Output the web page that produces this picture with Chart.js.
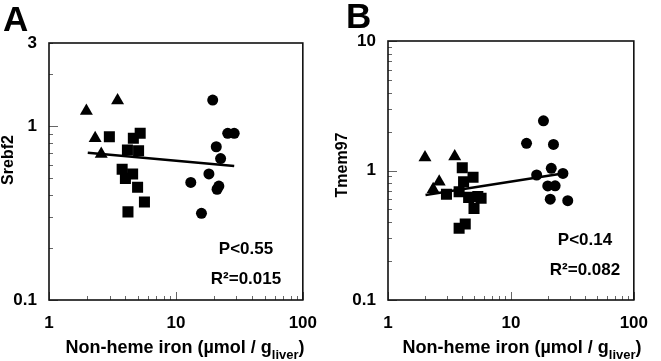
<!DOCTYPE html>
<html lang="en">
<head>
<meta charset="UTF-8" />
<title>Srebf2 / Tmem97 vs non-heme iron</title>
<script src="https://cdn.jsdelivr.net/npm/chart.js"></script>
<style>
  body { margin: 0; background: #fff; }
  .panel { position: absolute; top: 0; }
  #panelA { left: 0; }
  #panelB { left: 330px; }
</style>
</head>
<body>
<div class="panel" id="panelA"><canvas id="chartA" width="330" height="361"></canvas></div>
<div class="panel" id="panelB"><canvas id="chartB" width="331" height="361"></canvas></div>
<script>
// --- panel A: Srebf2 ---
const triXA = [1.97, 2.31, 2.58, 3.47];
const triYA = [1.22, 0.85, 0.69, 1.40];
const sqXA = [2.99, 4.62, 5.23, 4.15, 5.08, 3.77, 4.00, 4.56, 4.99, 5.65, 4.19];
const sqYA = [0.868, 0.85, 0.908, 0.728, 0.721, 0.564, 0.50, 0.53, 0.445, 0.366, 0.321];
const cirXA = [19.5, 25.6, 28.8, 20.8, 22.5, 18.2, 13.1, 21.8, 21.1, 15.9];
const cirYA = [1.41, 0.908, 0.908, 0.76, 0.65, 0.53, 0.474, 0.452, 0.433, 0.315];
const fitXA = [2.02, 28.8];
const fitYA = [0.703, 0.59];

// --- panel B: Tmem97 ---
const triXB = [2.0, 3.49, 2.61, 2.33];
const triYB = [1.26, 1.28, 0.82, 0.716];
const sqXB = [4.02, 4.92, 4.12, 2.99, 3.79, 4.53, 5.38, 5.72, 5.01, 4.25, 3.79];
const sqYB = [1.05, 0.886, 0.82, 0.655, 0.685, 0.62, 0.63, 0.61, 0.51, 0.386, 0.358];
const cirXB = [18.4, 13.4, 22.2, 21.3, 26.5, 16.2, 19.95, 22.9, 20.9, 29.0];
const cirYB = [2.42, 1.62, 1.59, 1.04, 0.95, 0.923, 0.76, 0.762, 0.60, 0.585];
const fitXB = [2.02, 28.8];
const fitYB = [0.647, 0.96];

// axis ticks
const xTicks = [1, 2, 3, 4, 5, 6, 7, 8, 9, 10, 20, 30, 40, 50, 60, 70, 80, 90, 100];
const xLabels = [1, 10, 100];
const yTicksA = [0.1, 0.2, 0.3, 0.4, 0.5, 0.6, 0.7, 0.8, 0.9, 1, 2, 3];
const yLabelsA = [0.1, 1, 3];
const yTicksB = [0.1, 0.2, 0.3, 0.4, 0.5, 0.6, 0.7, 0.8, 0.9, 1, 2, 3, 4, 5, 6, 7, 8, 9, 10];
const yLabelsB = [0.1, 1, 10];

const FONT = '"Liberation Sans", Arial, sans-serif';

const pts = (xs, ys) => xs.map((x, i) => ({ x: x, y: ys[i] }));
const isDecade = v => Math.abs(Math.log10(v) - Math.round(Math.log10(v))) < 1e-6;

// frame, inward tick marks and the extra texts
const decorations = {
  id: 'decorations',
  afterDatasetsDraw(chart, args, o) {
    const ctx = chart.ctx, a = chart.chartArea;
    const sx = chart.scales.x, sy = chart.scales.y;
    ctx.save();
    ctx.strokeStyle = '#666';
    ctx.lineWidth = 1;
    sx.ticks.forEach(t => {
      const px = Math.round(sx.getPixelForValue(t.value)) + 0.5;
      const len = isDecade(t.value) ? 8 : 4;
      ctx.beginPath(); ctx.moveTo(px, a.bottom); ctx.lineTo(px, a.bottom - len); ctx.stroke();
    });
    sy.ticks.forEach(t => {
      const py = Math.round(sy.getPixelForValue(t.value)) + 0.5;
      const len = isDecade(t.value) ? 9 : 4;
      ctx.beginPath(); ctx.moveTo(a.left, py); ctx.lineTo(a.left + len, py); ctx.stroke();
    });
    ctx.strokeStyle = '#111';
    ctx.lineWidth = 1.6;
    ctx.strokeRect(a.left, a.top, a.right - a.left, a.bottom - a.top);

    ctx.fillStyle = '#000';
    // panel letter
    ctx.font = 'bold 35px ' + FONT;
    ctx.textAlign = 'left'; ctx.textBaseline = 'alphabetic';
    ctx.fillText(o.letter, o.letterX, o.letterY);

    // stats
    ctx.font = 'bold 17px ' + FONT;
    ctx.textAlign = 'center'; ctx.textBaseline = 'middle';
    ctx.fillText(o.p, o.statX, o.pY);
    ctx.fillText(o.r2, o.statX, o.rY);

    // y title
    ctx.save();
    ctx.translate(o.yTitleX, o.yTitleY);
    ctx.rotate(-Math.PI / 2);
    ctx.font = 'bold 16px ' + FONT;
    ctx.fillText(o.yTitle, 0, 0);
    ctx.restore();

    // x title with subscript
    ctx.textBaseline = 'alphabetic'; ctx.textAlign = 'left';
    const main = 'Non-heme iron (\u00b5mol / g', sub = 'liver', tail = ')';
    ctx.font = 'bold 18px ' + FONT;
    const w1 = ctx.measureText(main).width, w3 = ctx.measureText(tail).width;
    ctx.font = 'bold 13px ' + FONT;
    const w2 = ctx.measureText(sub).width;
    let x = o.xTitleX - (w1 + w2 + w3) / 2;
    ctx.font = 'bold 18px ' + FONT;
    ctx.fillText(main, x, 353);
    ctx.font = 'bold 13px ' + FONT;
    ctx.fillText(sub, x + w1, 359);
    ctx.font = 'bold 18px ' + FONT;
    ctx.fillText(tail, x + w1 + w2, 353);
    ctx.restore();
  }
};

function makePanel(id, d) {
  const tickFont = { family: FONT, size: 17, weight: 'bold' };
  return new Chart(document.getElementById(id), {
    type: 'scatter',
    data: {
      datasets: [
        { type: 'line', data: pts(d.fitX, d.fitY), borderColor: '#000', borderWidth: 2.5,
          pointRadius: 0, fill: false },
        { data: pts(d.triX, d.triY), pointStyle: 'triangle', pointRadius: 7.5,
          backgroundColor: '#000', borderColor: '#000', borderWidth: 0 },
        { data: pts(d.sqX, d.sqY), pointStyle: 'rect', pointRadius: 7.8,
          backgroundColor: '#000', borderColor: '#000', borderWidth: 0 },
        { data: pts(d.cirX, d.cirY), pointStyle: 'circle', pointRadius: 5.5,
          backgroundColor: '#000', borderColor: '#000', borderWidth: 0 }
      ]
    },
    options: {
      responsive: false,
      animation: false,
      layout: { padding: d.padding },
      plugins: { legend: { display: false }, tooltip: { enabled: false }, decorations: d.deco },
      scales: {
        x: {
          type: 'logarithmic', min: 1, max: 100,
          grid: { display: false, drawTicks: false }, border: { display: false },
          afterBuildTicks: s => { s.ticks = xTicks.map(v => ({ value: v })); },
          afterFit: s => { s.height = 61; },
          ticks: {
            autoSkip: false, maxRotation: 0, minRotation: 0, padding: 13, color: '#000', font: tickFont,
            callback: v => xLabels.includes(v) ? String(v) : ''
          }
        },
        y: {
          type: 'logarithmic', min: d.yMin, max: d.yMax,
          grid: { display: false, drawTicks: false }, border: { display: false },
          afterBuildTicks: s => { s.ticks = d.yTicks.map(v => ({ value: v })); },
          afterFit: s => { s.width = d.yWidth; },
          ticks: {
            autoSkip: false, padding: 12, color: '#000', font: tickFont,
            callback: v => d.yLabels.includes(v) ? String(v) : ''
          }
        }
      }
    },
    plugins: [decorations]
  });
}

makePanel('chartA', {
  triX: triXA, triY: triYA, sqX: sqXA, sqY: sqYA, cirX: cirXA, cirY: cirYA, fitX: fitXA, fitY: fitYA,
  yMin: 0.1, yMax: 3, yTicks: yTicksA, yLabels: yLabelsA, yWidth: 49,
  padding: { left: 0, right: 23, top: 43, bottom: 0 },
  deco: { letter: 'A', letterX: 3, letterY: 31, p: 'P<0.55', r2: 'R\u00b2=0.015', statX: 246, pY: 249, rY: 279,
          yTitle: 'Srebf2', yTitleX: 9, yTitleY: 160, xTitleX: 185 }
});

makePanel('chartB', {
  triX: triXB, triY: triYB, sqX: sqXB, sqY: sqYB, cirX: cirXB, cirY: cirYB, fitX: fitXB, fitY: fitYB,
  yMin: 0.1, yMax: 10, yTicks: yTicksB, yLabels: yLabelsB, yWidth: 58,
  padding: { left: 0, right: 15, top: 41, bottom: 0 },
  deco: { letter: 'B', letterX: 16, letterY: 28, p: 'P<0.14', r2: 'R\u00b2=0.082', statX: 255, pY: 240, rY: 270,
          yTitle: 'Tmem97', yTitleX: 13, yTitleY: 165, xTitleX: 192 }
});
</script>
</body>
</html>
